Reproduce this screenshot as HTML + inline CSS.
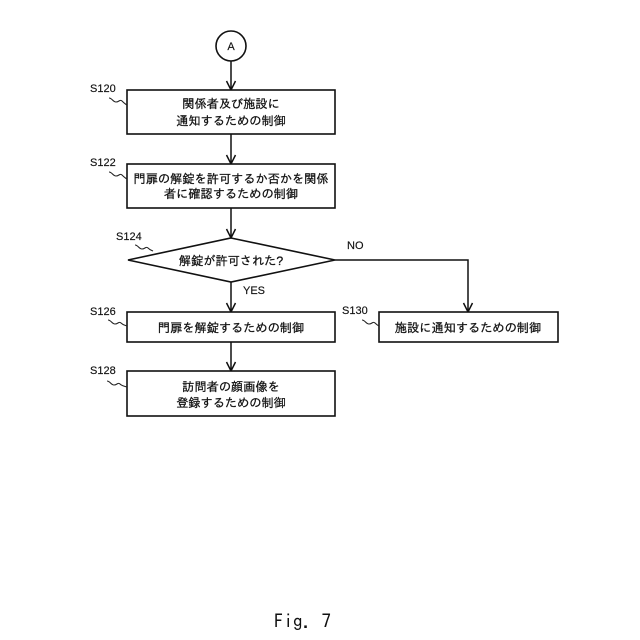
<!DOCTYPE html>
<html lang="ja"><head><meta charset="utf-8"><title>Fig. 7</title>
<style>html,body{margin:0;padding:0;background:#fff}svg{display:block}
.j{font-family:"Liberation Sans","IPAGothic","Noto Sans CJK JP",sans-serif;font-size:12.2px;text-anchor:middle;fill:#111;stroke:#111;stroke-width:.25px}
.l{font-family:"Liberation Sans",sans-serif;font-size:11px;fill:#111;stroke:#111;stroke-width:.15px}
.s{fill:#fff;stroke:#111;stroke-width:1.6}
.c{fill:none;stroke:#111;stroke-width:1.5}
.q{fill:none;stroke:#222;stroke-width:1.1}</style></head>
<body><svg width="640" height="640" viewBox="0 0 640 640" xmlns="http://www.w3.org/2000/svg">
<circle class="s" cx="231" cy="46" r="15"/>
<text x="231" y="50" class="l" text-anchor="middle">A</text>
<path class="c" d="M231 61V90M226.500 81L231 90L235.500 81"/>
<rect class="s" x="127" y="90" width="208" height="44"/>
<text x="231" y="108" class="j">関係者及び施設に</text>
<text x="231" y="125" class="j">通知するための制御</text>
<path class="c" d="M231 134V164M226.500 155L231 164L235.500 155"/>
<rect class="s" x="127" y="164" width="208" height="44"/>
<text x="231" y="183" class="j">門扉の解錠を許可するか否かを関係</text>
<text x="231" y="198" class="j">者に確認するための制御</text>
<path class="c" d="M231 208V238M226.500 229L231 238L235.500 229"/>
<polygon class="s" points="231,238 335,260 231,282 128,260"/>
<text x="231" y="265" class="j">解錠が許可された?</text>
<path class="c" d="M231 282V312M226.500 303L231 312L235.500 303"/>
<path class="c" d="M335 260H468V312M463.500 303L468 312L472.500 303"/>
<rect class="s" x="127" y="312" width="208" height="30"/>
<text x="231" y="332" class="j">門扉を解錠するための制御</text>
<path class="c" d="M231 342V371M226.500 362L231 371L235.500 362"/>
<rect class="s" x="127" y="371" width="208" height="45"/>
<text x="231" y="391" class="j">訪問者の顔画像を</text>
<text x="231" y="407" class="j">登録するための制御</text>
<rect class="s" x="379" y="312" width="179" height="30"/>
<text x="468" y="332" class="j">施設に通知するための制御</text>
<text x="243" y="294" class="l">YES</text>
<text x="347" y="249" class="l">NO</text>
<text x="90" y="92" class="l">S120</text>
<text x="90" y="166" class="l">S122</text>
<text x="116" y="240" class="l">S124</text>
<text x="90" y="315" class="l">S126</text>
<text x="90" y="374" class="l">S128</text>
<text x="342" y="314" class="l">S130</text>
<path class="q" d="M109 98c3 0 4 4 7 4s4-3 6-1 3 3 5 4"/>
<path class="q" d="M109 172c3 0 4 4 7 4s4-3 6-1 3 3 5 4"/>
<path class="q" d="M135 245c3 0 4 4 7 4s4-3 6-1 3 2 5 3"/>
<path class="q" d="M108 320c3 0 4 4 7 4s4-3 6-1 3 2 6 3"/>
<path class="q" d="M107 381c3 0 4 4 7 4s4-3 6-1 4 2 7 3"/>
<path class="q" d="M362 320c3 0 4 4 7 4s4-3 6-1 2 2 4 3"/>
<text x="274" y="628" style="font-family:'IPAGothic','Liberation Mono',monospace;font-size:19px;fill:#111">Fig. 7</text>
</svg></body></html>
